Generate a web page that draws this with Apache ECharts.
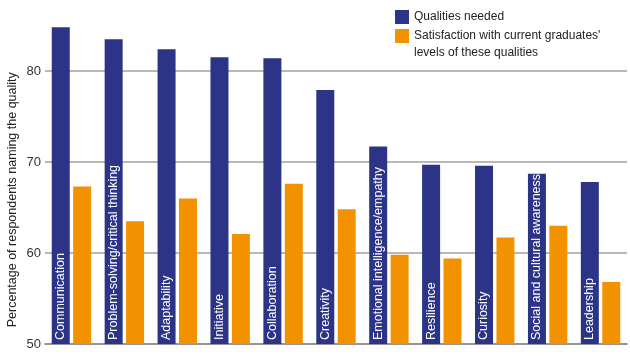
<!DOCTYPE html>
<html>
<head>
<meta charset="utf-8">
<script src="https://cdn.jsdelivr.net/npm/echarts@6/dist/echarts.min.js"></script>
<style>html,body{margin:0;padding:0;background:#fff;}#c{width:630px;height:360px;}</style>
</head>
<body>
<div id="c"></div>
<script>
const categories = ['Communication', 'Problem-solving/critical thinking', 'Adaptability', 'Initiative', 'Collaboration', 'Creativity', 'Emotional intelligence/empathy', 'Resilience', 'Curiosity', 'Social and cultural awareness', 'Leadership'];
const qualitiesNeeded = [84.8, 83.5, 82.4, 81.5, 81.4, 77.9, 71.7, 69.7, 69.6, 68.7, 67.8];
const satisfaction = [67.3, 63.5, 66.0, 62.1, 67.6, 64.8, 59.8, 59.4, 61.7, 63.0, 56.8];
const yTicks = [50, 60, 70, 80];
const seriesNames = ['Qualities needed', "Satisfaction with current graduates'"];
const legendSecondLine = 'levels of these qualities';
const yTitle = 'Percentage of respondents naming the quality';

const NAVY = '#2b3486', ORANGE = '#f39200';
const FONT = '"Liberation Sans", Arial, sans-serif';
const chart = echarts.init(document.getElementById('c'), null, {renderer: 'canvas'});
chart.setOption({
  backgroundColor: '#ffffff',
  animation: false,
  textStyle: {fontFamily: FONT},
  grid: {left: 45, right: 3, top: 25.5, bottom: 16, containLabel: false, outerBoundsMode: 'none'},
  legend: {
    orient: 'vertical', left: 395, top: 10, padding: 0,
    itemWidth: 14, itemHeight: 14, itemGap: 5,
    icon: 'rect',
    data: seriesNames,
    textStyle: {fontSize: 12, color: '#222', fontFamily: FONT}
  },
  graphic: [{
    type: 'text', left: 414, top: 47,
    style: {text: legendSecondLine, fontSize: 12, fill: '#222', fontFamily: FONT}
  }],
  xAxis: {
    type: 'category', data: categories,
    axisLabel: {show: false}, axisTick: {show: false},
    axisLine: {show: true, lineStyle: {color: '#888', width: 1.5}}
  },
  yAxis: {
    type: 'value', min: yTicks[0], max: 85, interval: 10,
    name: yTitle, nameLocation: 'middle', nameGap: 26, nameMoveOverlap: false,
    nameTextStyle: {fontSize: 12.5, color: '#222', fontFamily: FONT, padding: [0, 30, 0, 0]},
    axisLabel: {fontSize: 13, color: '#333', margin: 4, showMaxLabel: false,
      formatter: v => yTicks.includes(v) ? String(v) : ''},
    axisLine: {show: false}, axisTick: {show: false},
    splitLine: {show: true, showMaxLine: false, lineStyle: {color: '#a0a0a0', width: 1.5}}
  },
  series: [{
    name: seriesNames[0], type: 'bar', data: qualitiesNeeded,
    barWidth: 18, barGap: '19%',
    itemStyle: {color: NAVY},
    label: {show: true, position: 'insideBottom', rotate: 90, align: 'left', verticalAlign: 'middle',
      distance: 4, formatter: '{b}', color: '#fff', fontSize: 12.5, fontFamily: FONT, overflow: 'none'}
  }, {
    name: seriesNames[1], type: 'bar', data: satisfaction,
    barWidth: 18,
    itemStyle: {color: ORANGE}
  }]
});
</script>
</body>
</html>
